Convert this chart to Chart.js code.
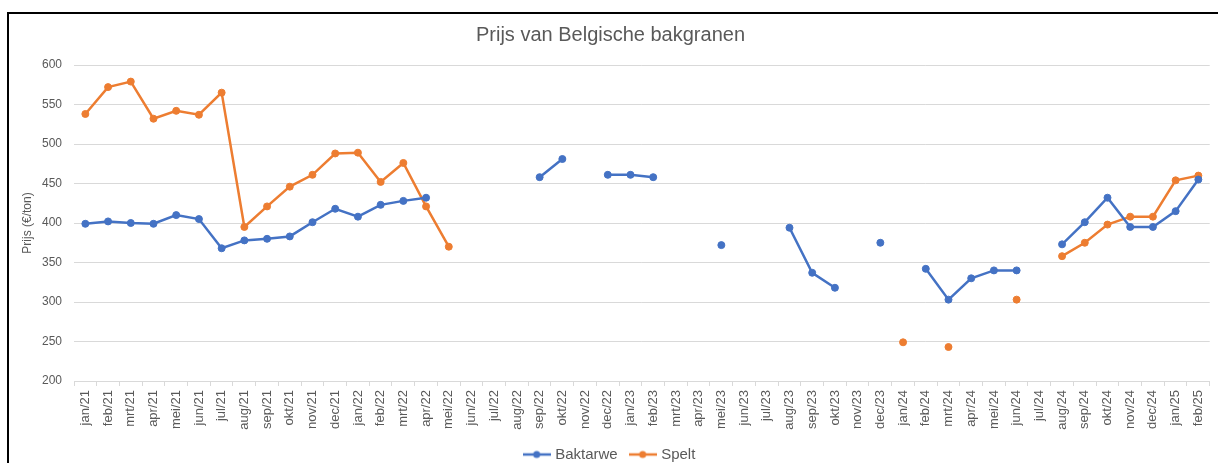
<!DOCTYPE html>
<html>
<head>
  <meta charset="utf-8">
  <title>Prijs van Belgische bakgranen</title>
  <script src="https://cdn.jsdelivr.net/npm/chart.js"></script>
  <style>
    html, body { margin: 0; padding: 0; background: #fff; }
    #wrap { position: relative; width: 1218px; height: 463px; overflow: hidden; }
    #frame { position: absolute; left: 7px; top: 12px; width: 1300px; height: 600px;
             border-top: 2px solid #000; border-left: 2px solid #000; pointer-events: none; }
  </style>
</head>
<body>
  <div id="wrap">
    <canvas id="prijsChart" width="1218" height="463"></canvas>
    <div id="frame"></div>
  </div>

  <script>
    const maanden = [
      'jan/21','feb/21','mrt/21','apr/21','mei/21','jun/21','jul/21','aug/21','sep/21','okt/21','nov/21','dec/21',
      'jan/22','feb/22','mrt/22','apr/22','mei/22','jun/22','jul/22','aug/22','sep/22','okt/22','nov/22','dec/22',
      'jan/23','feb/23','mrt/23','apr/23','mei/23','jun/23','jul/23','aug/23','sep/23','okt/23','nov/23','dec/23',
      'jan/24','feb/24','mrt/24','apr/24','mei/24','jun/24','jul/24','aug/24','sep/24','okt/24','nov/24','dec/24',
      'jan/25','feb/25'
    ];

    const baktarwe = [
      399, 402, 400, 399, 410, 405, 368, 378, 380, 383, 401, 418,
      408, 423, 428, 432, null, null, null, null, 458, 481, null, 461,
      461, 458, null, null, 372, null, null, 394, 337, 318, null, 375,
      null, 342, 303, 330, 340, 340, null, 373, 401, 432, 395, 395,
      415, 455
    ];

    const spelt = [
      538, 572, 579, 532, 542, 537, 565, 395, 421, 446, 461, 488,
      489, 452, 476, 421, 370, null, null, null, null, null, null, null,
      null, null, null, null, null, null, null, null, null, null, null, null,
      249, null, 243, null, null, 303, null, 358, 375, 398, 408, 408,
      454, 460
    ];

    const yMin = 200, yMax = 600, yStap = 50;

    const blauw = '#4472C4';
    const oranje = '#ED7D31';
    const grijs = '#595959';
    const raster = '#D9D9D9';

    const onderPad = -9;

    // legend marker: short line with a dot, like Excel
    function lijnMarker(kleur) {
      const c = document.createElement('canvas');
      c.width = 28; c.height = 10;
      const g = c.getContext('2d');
      g.strokeStyle = kleur; g.lineWidth = 2.5;
      g.beginPath(); g.moveTo(0, 5); g.lineTo(28, 5); g.stroke();
      g.fillStyle = kleur;
      g.beginPath(); g.arc(14, 5, 3.5, 0, Math.PI * 2); g.fill();
      return c;
    }

    Chart.defaults.font.family = "'Liberation Sans', Arial, sans-serif";
    Chart.defaults.color = grijs;

    const ctx = document.getElementById('prijsChart').getContext('2d');
    const chart = new Chart(ctx, {
      type: 'line',
      data: {
        labels: maanden,
        datasets: [
          {
            label: 'Baktarwe',
            data: baktarwe,
            borderColor: blauw,
            backgroundColor: blauw,
            borderWidth: 2.5,
            pointRadius: 3.5,
            pointHoverRadius: 3.5,
            pointBorderWidth: 1,
            tension: 0
          },
          {
            label: 'Spelt',
            data: spelt,
            borderColor: oranje,
            backgroundColor: oranje,
            borderWidth: 2.5,
            pointRadius: 3.5,
            pointHoverRadius: 3.5,
            pointBorderWidth: 1,
            tension: 0
          }
        ]
      },
      options: {
        responsive: false,
        animation: false,
        spanGaps: false,
        layout: { padding: { left: 8, right: 5, top: 0, bottom: onderPad } },
        plugins: {
          title: {
            display: true,
            text: 'Prijs van Belgische bakgranen',
            color: grijs,
            font: { size: 20, weight: 'normal' },
            padding: { top: 23, bottom: 18 }
          },
          legend: {
            position: 'bottom',
            labels: {
              usePointStyle: true,
              pointStyleWidth: 22,
              padding: 14,
              color: grijs,
              font: { size: 15 },
              generateLabels: (ch) => {
                const items = Chart.defaults.plugins.legend.labels.generateLabels(ch);
                items.forEach((it, i) => {
                  it.pointStyle = lijnMarker(i === 0 ? blauw : oranje);
                });
                return items;
              }
            }
          },
          tooltip: { enabled: false }
        },
        scales: {
          x: {
            offset: true,
            grid: {
              offset: true,
              drawOnChartArea: false,
              drawTicks: true,
              tickLength: 5,
              color: raster
            },
            border: { display: true, color: raster, width: 1 },
            ticks: {
              autoSkip: false,
              maxRotation: 90,
              minRotation: 90,
              padding: 4,
              color: grijs,
              font: { size: 13 }
            },
            afterFit: (s) => { s.height = 463 - onderPad - 381 - s.chart.legend.height; }
          },
          y: {
            min: yMin,
            max: yMax,
            ticks: {
              stepSize: yStap,
              padding: 12,
              color: grijs,
              font: { size: 12 }
            },
            grid: { color: raster, drawTicks: false, lineWidth: 1 },
            border: { display: false },
            title: {
              display: true,
              text: 'Prijs (€/ton)',
              color: grijs,
              font: { size: 12 },
              padding: { top: 12, bottom: 0 }
            },
            afterFit: (s) => { s.width = 66; }
          }
        }
      }
    });
  </script>
</body>
</html>
